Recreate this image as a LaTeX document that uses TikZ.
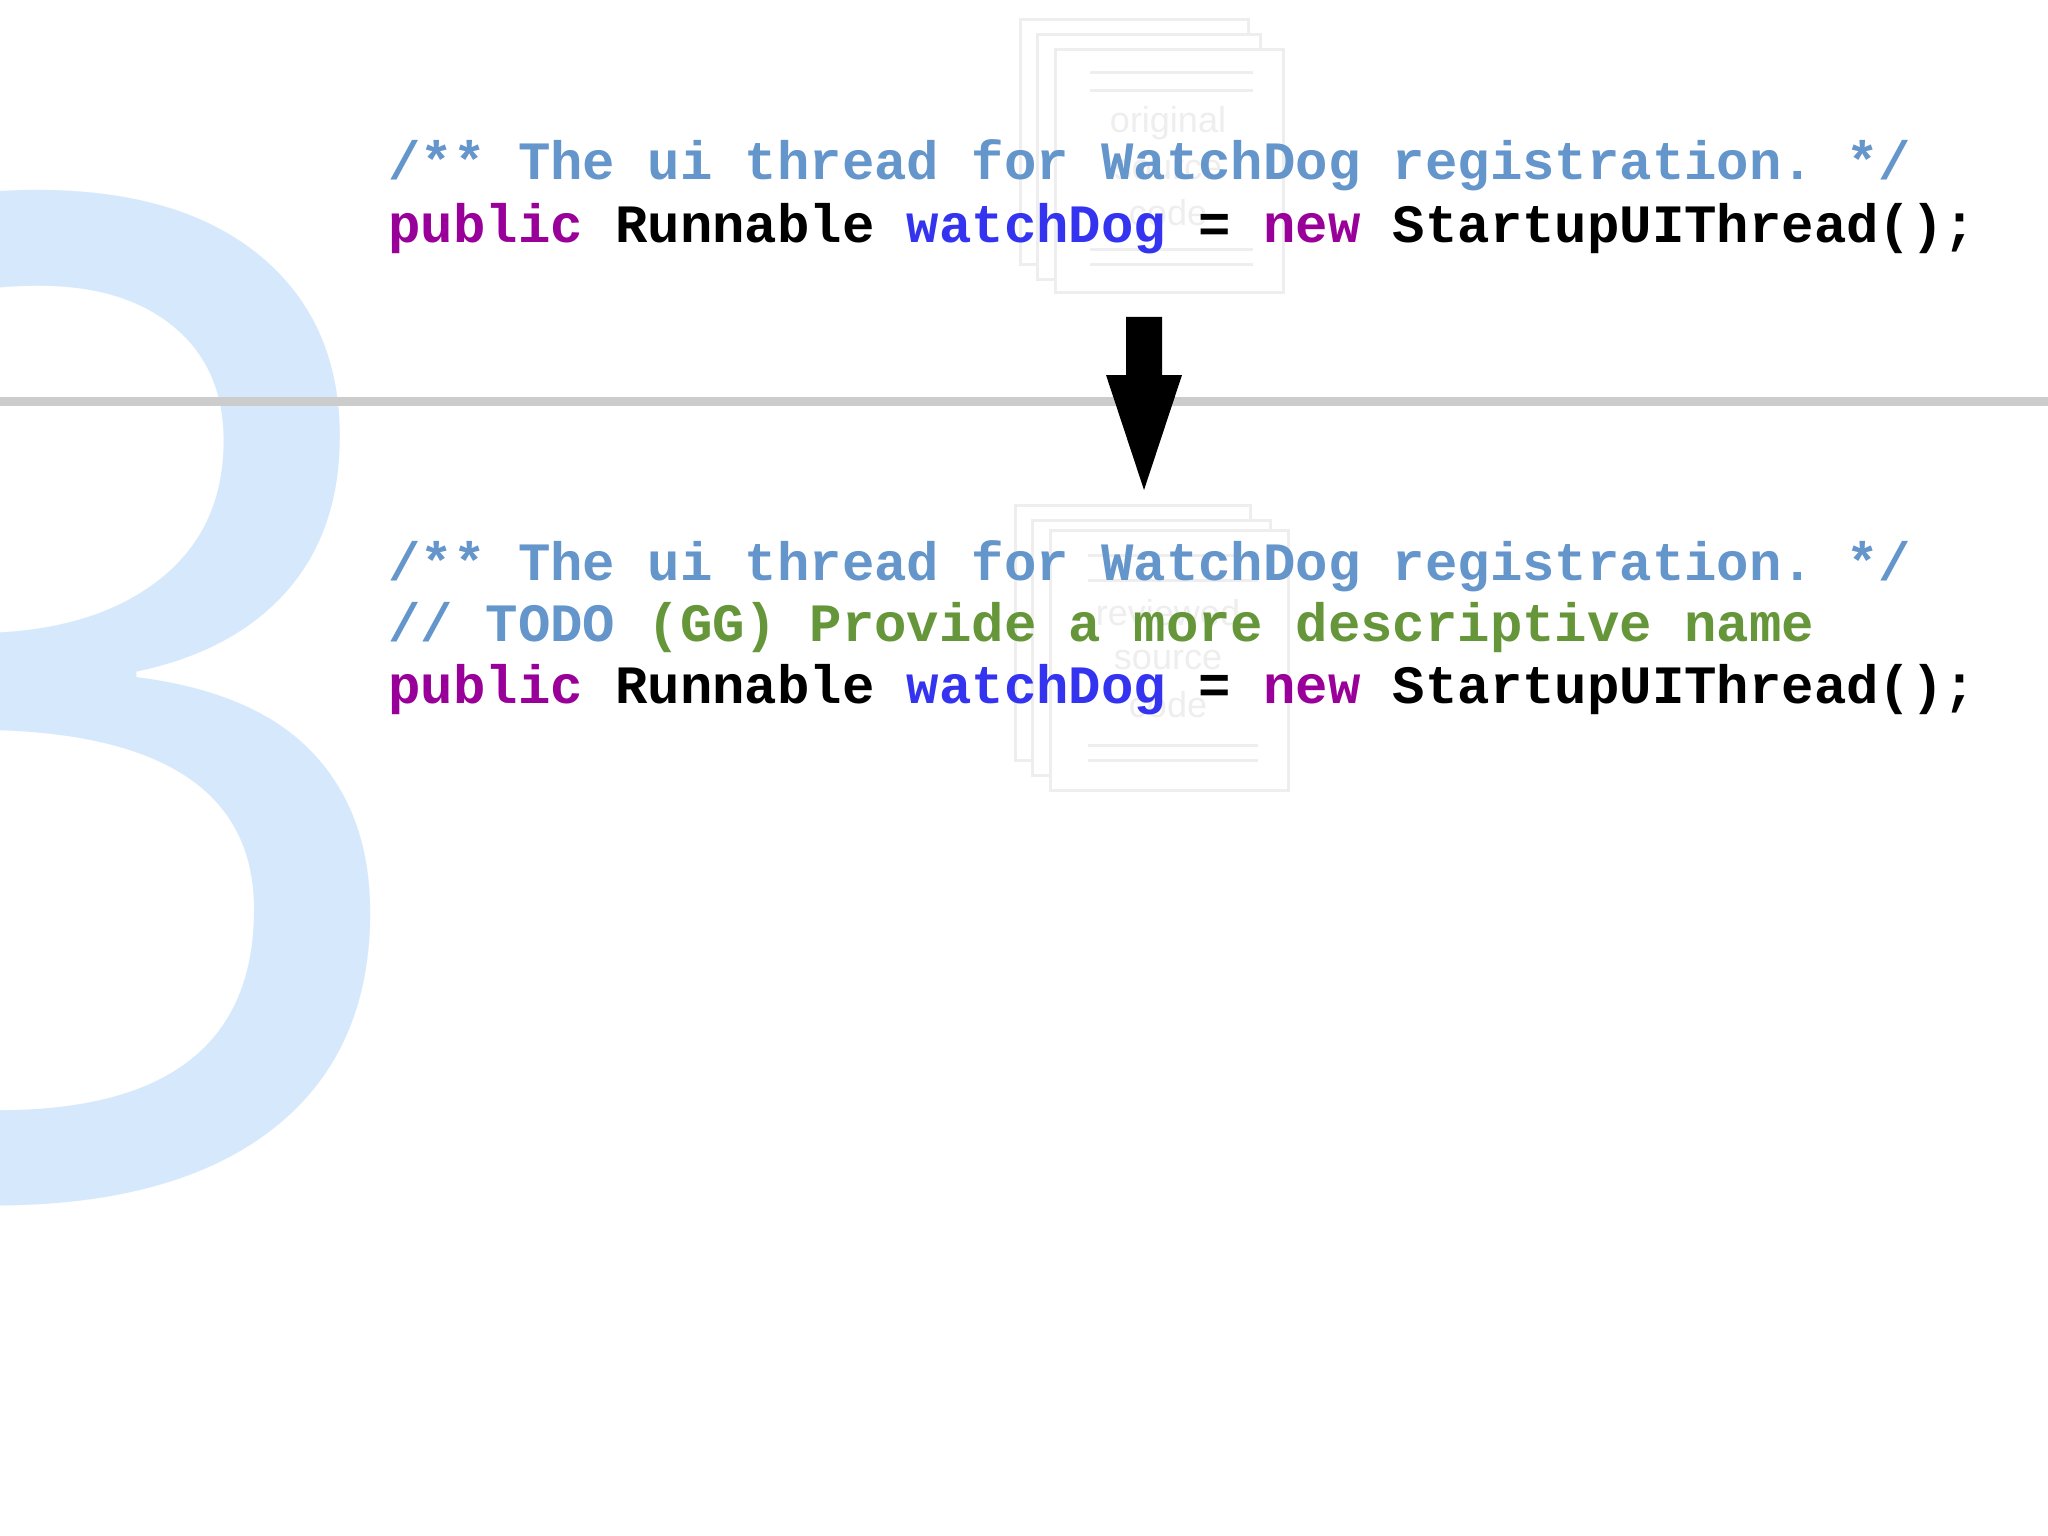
\documentclass[tikz,border=0pt]{standalone}
\usepackage{fontspec}
\setmonofont{Liberation Mono}
\newfontfamily\bigsans{Open Sans}
\newfontfamily\docsans{Liberation Sans}
\definecolor{cmt}{HTML}{6495CB}
\definecolor{kw}{HTML}{990099}
\definecolor{var}{HTML}{3333F0}
\definecolor{grn}{HTML}{66963A}
\definecolor{three}{HTML}{D6E8FC}
\definecolor{docc}{HTML}{EEEEEE}
\tikzset{
  code/.style={anchor=base west,inner sep=0pt,font=\ttfamily\bfseries\fontsize{27pt}{30pt}\selectfont},
  page/.style={draw=docc,line width=1.5pt,fill=white},
  docline/.style={draw=docc,line width=1.5pt},
  doctext/.style={text=docc,font=\docsans\fontsize{18pt}{22pt}\selectfont,inner sep=0pt}
}
\begin{document}
\begin{tikzpicture}[x=0.5pt,y=-0.5pt]
\useasboundingbox (0,0) rectangle (2048,1535);
\fill[white] (0,0) rectangle (2048,1535);
\begin{scope}
\clip (0,0) rectangle (2048,1535);
\node[anchor=base east,inner sep=0pt,text=three,font=\bigsans\fontsize{692pt}{692pt}\selectfont] (three) at (452,1192) {3};
\end{scope}
% top document stack
\draw[page] (1020,20) rectangle (1248,265);
\draw[page] (1037,35) rectangle (1260,280);
\draw[page] (1055,50) rectangle (1283,293);
\foreach \y in {73,91,250,265} \draw[docline] (1090,\y) -- (1253,\y);
\node[doctext] (t1) at (1168,123) {original};
\node[doctext] (t2) at (1168,170) {source};
\node[doctext] (t3) at (1168,213) {code};
% bottom document stack
\draw[page] (1015,505) rectangle (1250,760);
\draw[page] (1032,520) rectangle (1270,775);
\draw[page] (1050,530) rectangle (1288,790);
\foreach \y in {555,580,745,760} \draw[docline] (1088,\y) -- (1258,\y);
\node[doctext] (b1) at (1168,613) {reviewed};
\node[doctext] (b2) at (1168,660) {source};
\node[doctext] (b3) at (1168,705) {code};
% separator
\fill[black!20] (0,397) rectangle (2048,406);
% arrow
\fill[black] (1126,317) -- (1162,317) -- (1162,375) -- (1182,375) -- (1144,490) -- (1106,375) -- (1126,375) -- cycle;
% code
\node[code] (l1) at (388,180) {\textcolor{cmt}{/** The ui thread for WatchDog registration. */}};
\node[code] (l2) at (388,243) {\textcolor{kw}{public} Runnable \textcolor{var}{watchDog} = \textcolor{kw}{new} StartupUIThread();};
\node[code] (l3) at (388,580) {\textcolor{cmt}{/** The ui thread for WatchDog registration. */}};
\node[code] (l4) at (388,641) {\textcolor{cmt}{// TODO} \textcolor{grn}{(GG) Provide a more descriptive name}};
\node[code] (l5) at (388,703) {\textcolor{kw}{public} Runnable \textcolor{var}{watchDog} = \textcolor{kw}{new} StartupUIThread();};
\end{tikzpicture}
\end{document}
